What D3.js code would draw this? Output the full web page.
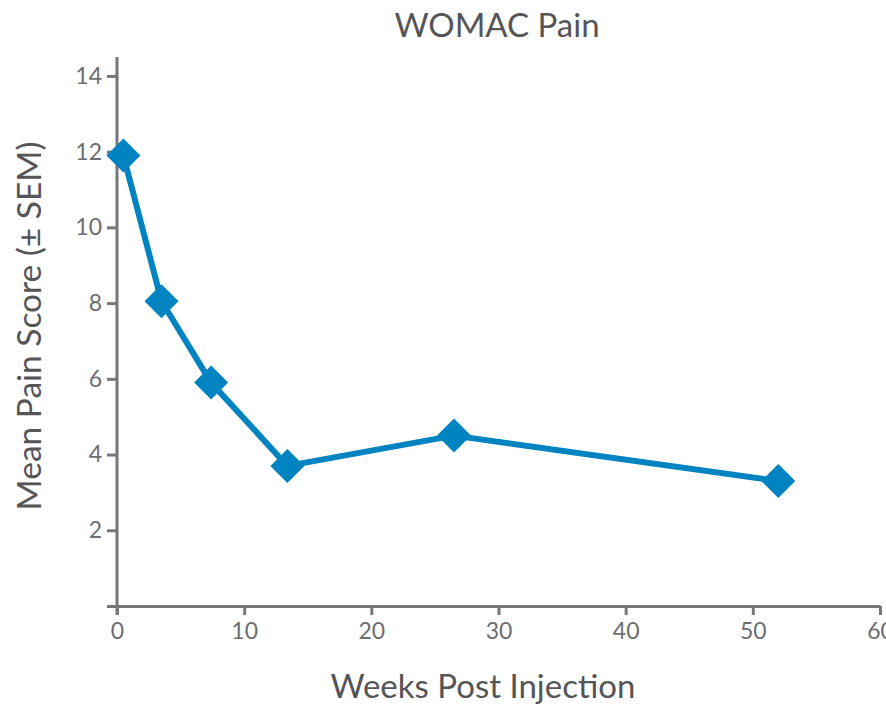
<!DOCTYPE html>
<html>
<head>
<meta charset="utf-8">
<script src="https://cdn.jsdelivr.net/npm/d3@7"></script>
<style>
  body { margin: 0; background: #fff; }
  svg text { font-family: Lato, "Open Sans", sans-serif; }
  .axis path, .axis line { stroke: #77777a; stroke-width: 3; }
  .axis text { fill: #6d6d70; font-size: 23px; }
</style>
</head>
<body>
<script>
// Data
var weeks = [0.5, 3.5, 7.4, 13.4, 26.5, 52];
var painScore = [11.9, 8.05, 5.9, 3.7, 4.5, 3.3];
var xTicks = [0, 10, 20, 30, 40, 50, 60];
var yTicks = [0, 2, 4, 6, 8, 10, 12, 14];

var margin = {top: 57, right: 6, bottom: 100, left: 117},
    width = 886 - margin.left - margin.right,
    height = 706 - margin.top - margin.bottom;

var svg = d3.select("body")
    .append("svg")
        .attr("width", 886)
        .attr("height", 706);

var g = svg.append("g")
    .attr("transform", "translate(" + margin.left + "," + margin.top + ")");

var x = d3.scaleLinear().domain([0, 60]).range([0, 763]);
var y = d3.scaleLinear().domain([0, 14.5]).range([549, 0]);

// Axes
var xAxis = d3.axisBottom(x).tickValues(xTicks).tickSize(9).tickSizeOuter(0).tickPadding(7);
var yAxis = d3.axisLeft(y).tickValues(yTicks).tickSize(10).tickSizeOuter(0).tickPadding(5)
    .tickFormat(function(d) { return d === 0 ? "" : d; });

g.append("g")
    .attr("class", "x axis")
    .attr("transform", "translate(0," + y(0) + ")")
    .call(xAxis)
    .selectAll("text").attr("dy", "0.75em");

var yG = g.append("g")
    .attr("class", "y axis")
    .call(yAxis);
yG.select(".domain").attr("d", "M0,0V" + (y(0) + 9));

// Line
var data = weeks.map(function(w, i) { return {week: w, score: painScore[i]}; });

var valueline = d3.line()
    .x(function(d) { return x(d.week); })
    .y(function(d) { return y(d.score); });

g.append("path")
    .attr("d", valueline(data))
    .attr("fill", "none")
    .attr("stroke", "#0083c1")
    .attr("stroke-width", 6)
    .attr("stroke-linejoin", "round");

// Diamonds
g.selectAll(".pt")
    .data(data)
    .enter().append("path")
    .attr("class", "pt")
    .attr("transform", function(d) { return "translate(" + x(d.week) + "," + y(d.score) + ")"; })
    .attr("d", "M0,-17L17,0L0,17L-17,0Z")
    .attr("fill", "#0083c1");

// Title
svg.append("text")
    .attr("x", 497)
    .attr("y", 37)
    .attr("text-anchor", "middle")
    .style("font-size", "33px")
    .style("fill", "#555558")
    .text("WOMAC Pain");

// X label
svg.append("text")
    .attr("x", 483)
    .attr("y", 698)
    .attr("text-anchor", "middle")
    .style("font-size", "33px")
    .style("fill", "#555558")
    .text("Weeks Post Injection");

// Y label
svg.append("text")
    .attr("transform", "translate(41," + 326 + ") rotate(-90)")
    .attr("text-anchor", "middle")
    .style("font-size", "33.5px")
    .style("fill", "#555558")
    .text("Mean Pain Score (± SEM)");
</script>
</body>
</html>
